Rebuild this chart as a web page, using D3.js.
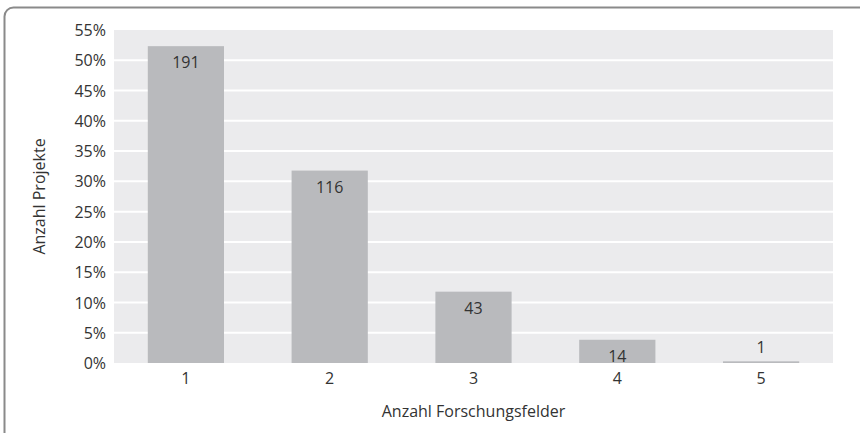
<!DOCTYPE html>
<html><head><meta charset="utf-8">
<script src="https://cdn.jsdelivr.net/npm/d3@7"></script>
<style>body{margin:0;background:#fff;} text{font-family:"Open Sans",sans-serif;fill:#333;}</style>
</head><body>
<svg id="c" width="860" height="433"></svg>
<script>
const categories = ["1","2","3","4","5"];
const counts = [191,116,43,14,1];
const yTicks = [0,0.05,0.10,0.15,0.20,0.25,0.30,0.35,0.40,0.45,0.50,0.55];
const xTitle = "Anzahl Forschungsfelder";
const yTitle = "Anzahl Projekte";

const total = d3.sum(counts);
const data = categories.map((c,i)=>({cat:c, n:counts[i], p:counts[i]/total}));

const svg = d3.select("#c");
const m = {l:114, r:27, t:30, b:70};
const W = 860, H = 433;
const x = d3.scaleBand().domain(categories).range([m.l, W-m.r]).paddingInner(0.47).paddingOuter(0.235);
const y = d3.scaleLinear().domain([0,0.55]).range([H-m.b, m.t]);

// frame
svg.append("rect").attr("x",4.5).attr("y",7.5).attr("width",1000).attr("height",1000)
  .attr("rx",9).attr("fill","none").attr("stroke","#8a8a8a").attr("stroke-width",2);

// plot bg
svg.append("rect").attr("x",m.l).attr("y",m.t).attr("width",W-m.r-m.l).attr("height",H-m.b-m.t).attr("fill","#ebebed");

// gridlines
svg.append("g").selectAll("line").data(yTicks.slice(1,-1)).join("line")
  .attr("x1",m.l).attr("x2",W-m.r).attr("y1",d=>y(d)).attr("y2",d=>y(d))
  .attr("stroke","#fff").attr("stroke-width",2);

// y axis
const ya = svg.append("g").attr("transform",`translate(${m.l},0)`)
  .call(d3.axisLeft(y).tickValues(yTicks).tickFormat(d=>Math.round(d*100)+"%").tickSize(0).tickPadding(8));
ya.select(".domain").remove();
ya.selectAll("text").style("font-size","16px").attr("fill","#333").attr("dy","0.35em");

// x axis
const xa = svg.append("g").attr("transform",`translate(0,${H-m.b})`)
  .call(d3.axisBottom(x).tickSize(0).tickPadding(10));
xa.select(".domain").remove();
xa.selectAll("text").style("font-size","16px").attr("fill","#333");

// bars
svg.append("g").selectAll("rect").data(data).join("rect")
  .attr("x",d=>x(d.cat)).attr("width",x.bandwidth())
  .attr("y",d=>y(d.p)).attr("height",d=>y(0)-y(d.p)).attr("fill","#b9babd");

// labels
svg.append("g").selectAll("text").data(data).join("text")
  .attr("x",d=>x(d.cat)+x.bandwidth()/2)
  .attr("y",d=> (y(0)-y(d.p) > 20) ? y(d.p)+22 : y(d.p)-8)
  .attr("text-anchor","middle").style("font-size","16px").text(d=>d.n);

// titles
svg.append("text").attr("x",(m.l+W-m.r)/2 - 0).attr("y",417).attr("text-anchor","middle")
  .style("font-size","16px").text(xTitle);
svg.append("text").attr("transform",`translate(45,${(m.t+H-m.b)/2}) rotate(-90)`).attr("text-anchor","middle")
  .style("font-size","16px").text(yTitle);
</script>
</body></html>
